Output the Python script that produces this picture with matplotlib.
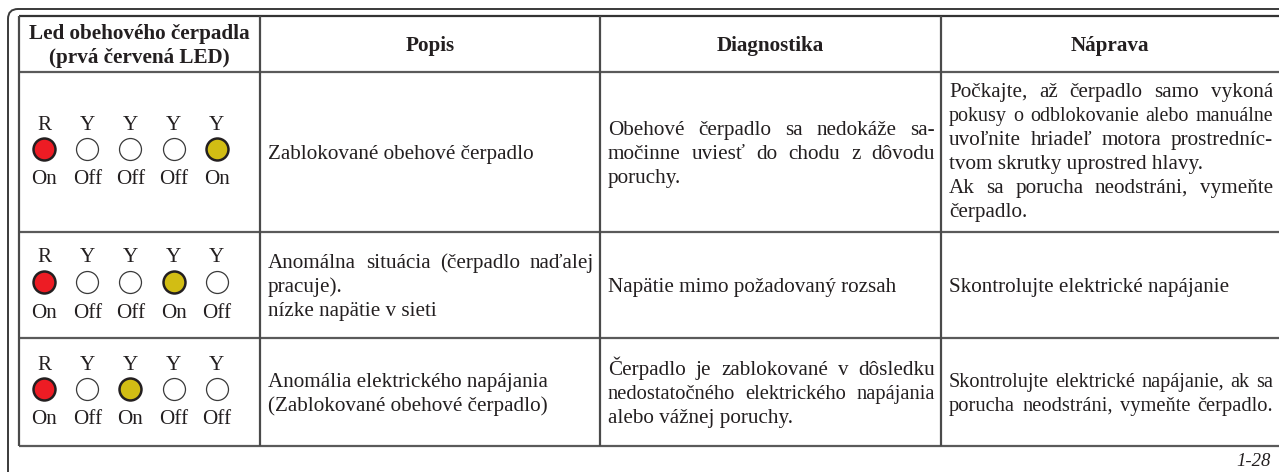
"""
Tabulka LED kontrolky obehoveho cerpadla
"""
import matplotlib
matplotlib.use("Agg")
import matplotlib.pyplot as plt
from matplotlib.path import Path
from matplotlib.patches import PathPatch

# hlavicka tabulky
headers = ["Led obehového čerpadla\n(prvá červená LED)", "Popis", "Diagnostika", "Náprava"]

# LED kontrolky
led_names = ["R", "Y", "Y", "Y", "Y"]
led_states = [
    ["On", "Off", "Off", "Off", "On"],
    ["On", "Off", "Off", "On", "Off"],
    ["On", "Off", "On", "Off", "Off"],
]

popis = [
    ["Zablokované obehové čerpadlo"],
    ["Anomálna situácia (čerpadlo naďalej", "pracuje).", "nízke napätie v sieti"],
    ["Anomália elektrického napájania", "(Zablokované obehové čerpadlo)"],
]
diagnostika = [
    ["Obehové čerpadlo sa nedokáže sa-", "močinne uviesť do chodu z dôvodu", "poruchy."],
    ["Napätie mimo požadovaný rozsah"],
    ["Čerpadlo je zablokované v dôsledku", "nedostatočného elektrického napájania",
     "alebo vážnej poruchy."],
]
naprava = [
    ["Počkajte, až čerpadlo samo vykoná", "pokusy o odblokovanie alebo manuálne",
     "uvoľnite hriadeľ motora prostredníc-", "tvom skrutky uprostred hlavy.",
     "Ak sa porucha neodstráni, vymeňte", "čerpadlo."],
    ["Skontrolujte elektrické napájanie"],
    ["Skontrolujte elektrické napájanie, ak sa", "porucha neodstráni, vymeňte čerpadlo."],
]
page_label = "1-28"

# ktore riadky su zarovnane do bloku
justify = {
    (0, 1): [True, True, False],
    (0, 2): [True, True, True, False, True, False],
    (1, 0): [True, False, False],
    (2, 1): [True, True, False],
    (2, 2): [True, True],
}

W, H = 1279, 472
fig = plt.figure(figsize=(W / 100, H / 100), dpi=100)
ax = fig.add_axes([0, 0, 1, 1])
ax.set_xlim(0, W)
ax.set_ylim(H, 0)
ax.axis("off")

FONT = "Liberation Serif"
INK = "#231f20"
SIZE = 15.2
LEAD = 24

col_x = [19, 260, 600, 941, W]
row_y = [16, 72, 232, 338, 446]

renderer = fig.canvas.get_renderer()

# ramik okolo strany
frame = Path([(8, H), (8, 19), (8, 9), (18, 9), (W, 9)],
             [Path.MOVETO, Path.LINETO, Path.CURVE3, Path.CURVE3, Path.LINETO])
ax.add_patch(PathPatch(frame, fill=False, edgecolor="#3a3a3a", lw=1.4))

# mriezka tabulky
ax.hlines(row_y[0], col_x[0], W, color="#333333", lw=1.6)
ax.hlines(row_y[1:], col_x[0], W, color="#5a5a5a", lw=1.6)
ax.vlines(col_x[:4], row_y[0], row_y[-1], color="#4a4a4a", lw=1.6)

# hlavicka
for i, h in enumerate(headers):
    xc = (col_x[i] + col_x[i + 1]) / 2
    ax.text(xc, (row_y[0] + row_y[1]) / 2 + 2, h, ha="center", va="center",
            family=FONT, weight="bold", size=SIZE, color=INK, linespacing=1.22)


def text_width(s, size):
    t = ax.text(0, 0, s, family=FONT, size=size)
    w = t.get_window_extent(renderer).width
    t.remove()
    return w


def put_line(x0, x1, yc, s, just):
    size = SIZE
    while text_width(s, size) > (x1 - x0) - 4 and size > 9:
        size -= 0.2
    base = yc + 0.33 * size * 100 / 72
    if not just:
        ax.text(x0, base, s, ha="left", va="baseline", family=FONT, size=size, color=INK)
        return
    words = s.split(" ")
    widths = [text_width(w, size) for w in words]
    gap = (x1 - x0 - sum(widths)) / (len(words) - 1)
    x = x0
    for w, wd in zip(words, widths):
        ax.text(x, base, w, ha="left", va="baseline", family=FONT, size=size, color=INK)
        x += wd + gap


for r in range(3):
    yc = (row_y[r + 1] + row_y[r + 2]) / 2
    # LED kontrolky
    cy = yc - 3
    for i, (name, state) in enumerate(zip(led_names, led_states[r])):
        x = 44 + i * 43.2
        if state == "On":
            fc = "#ed1c24" if name == "R" else "#d2bd14"
            ax.scatter([x], [cy], s=250, facecolor=fc, edgecolor="#231f20", lw=1.8, zorder=3)
        else:
            ax.scatter([x], [cy], s=250, facecolor="white", edgecolor="#3a3a3a", lw=0.9, zorder=3)
        ax.text(x, cy - 24, name, ha="center", va="center", family=FONT, size=SIZE, color=INK)
        ax.text(x, cy + 31, state, ha="center", va="center", family=FONT, size=SIZE, color=INK)

    for c, cell in enumerate([popis[r], diagnostika[r], naprava[r]]):
        x0 = col_x[c + 1] + 8
        x1 = col_x[c + 2] - 6
        flags = justify.get((r, c), [False] * len(cell))
        n = len(cell)
        off = -2 if (r == 0 and c == 2) else 0
        for k, line in enumerate(cell):
            y = yc + off + (k - (n - 1) / 2) * LEAD
            put_line(x0, x1, y, line, flags[k])

ax.text(1271, 462, page_label, ha="right", va="center", family=FONT, style="italic",
        size=13.5, color=INK)

fig.savefig("out.png", dpi=100)
